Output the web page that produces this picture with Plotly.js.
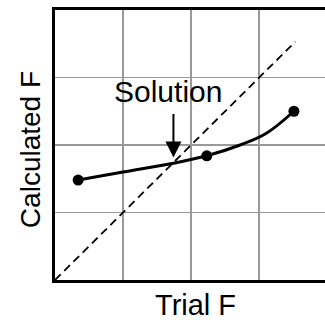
<!DOCTYPE html>
<html>
<head>
<meta charset="utf-8">
<script src="https://cdn.plot.ly/plotly-3.0.1.min.js"></script>
<style>html,body{margin:0;padding:0;background:#fff;overflow:hidden;width:325px;height:320px}</style>
</head>
<body>
<div id="chart" style="width:330px;height:320px"></div>
<script>
// Calculated F vs Trial F
const curveX = [0.34, 1.0, 1.74, 2.23, 2.72, 3.1, 3.51];
const curveY = [1.48, 1.60, 1.73, 1.84, 2.00, 2.17, 2.50];
const pointX = [0.34, 2.23, 3.51];
const pointY = [1.48, 1.84, 2.50];
const diagX = [0, 3.53];
const diagY = [0, 3.53];
const solutionX = 1.74;
const solutionY = 1.74;
const labelText = "Solution";
const xTitle = "Trial F";
const yTitle = "Calculated F";

const font = "Liberation Sans, Arial, sans-serif";

const traces = [
  {x: diagX, y: diagY, mode: "lines", line: {color: "#000", width: 1.8, dash: "8px,5px"}, hoverinfo: "skip"},
  {x: curveX, y: curveY, mode: "lines", line: {color: "#000", width: 3, shape: "spline", smoothing: 1}, hoverinfo: "skip"},
  {x: pointX, y: pointY, mode: "markers", marker: {color: "#000", size: 11}, hoverinfo: "skip"}
];

const axisBase = {
  showgrid: true, gridcolor: "#999", gridwidth: 1.5,
  showticklabels: false, ticks: "", zeroline: false,
  showline: true, linecolor: "#000", linewidth: 3,
  dtick: 1, tick0: 0, fixedrange: true
};

// plot area 55..330 px wide (window clips at 325), 10..280 px tall
const layout = {
  width: 330, height: 320,
  margin: {l: 55, r: 0, t: 10, b: 40, pad: 0},
  paper_bgcolor: "#fff", plot_bgcolor: "#fff",
  showlegend: false,
  xaxis: Object.assign({}, axisBase, {range: [0, 4.04], mirror: true}),
  yaxis: Object.assign({}, axisBase, {range: [0, 4], mirror: false}),
  annotations: [
    {text: labelText, x: 1.66, y: 2.8, xref: "x", yref: "y", showarrow: false,
     font: {family: font, size: 30, color: "#000"}, xanchor: "center", yanchor: "middle"},
    {text: "", x: solutionX, y: solutionY, xref: "x", yref: "y", showarrow: true,
     ax: 0, ay: -50, arrowhead: 2, arrowsize: 1.6, arrowwidth: 2, arrowcolor: "#000", standoff: 5},
    {text: xTitle, xref: "x", yref: "paper", x: 2.06, y: -0.092, showarrow: false,
     font: {family: font, size: 29, color: "#000"}, xanchor: "center", yanchor: "middle"},
    {text: yTitle, xref: "paper", yref: "paper", x: -0.0909, y: 0.481, showarrow: false, textangle: -90,
     font: {family: font, size: 28, color: "#000"}, xanchor: "center", yanchor: "middle"}
  ]
};

Plotly.newPlot("chart", traces, layout, {staticPlot: true, displayModeBar: false});
</script>
</body>
</html>
